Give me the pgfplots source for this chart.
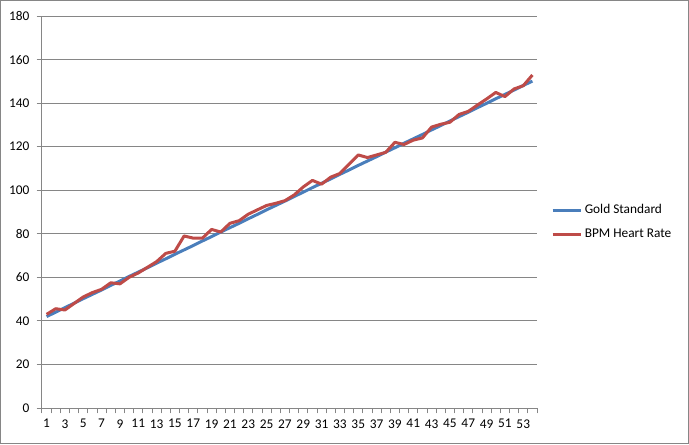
\documentclass[border=0pt]{standalone}
\usepackage{fontspec}
\setmainfont{Carlito}
\usepackage{pgfplots}
\pgfplotsset{compat=1.18}
\definecolor{gsblue}{RGB}{74,126,187}
\definecolor{bpmred}{RGB}{190,75,72}
\definecolor{axgray}{RGB}{134,134,134}
\begin{document}
\begin{tikzpicture}
\useasboundingbox (0,0) rectangle (516.75pt,333pt);
\draw[axgray,line width=0.75pt] (0.375pt,0.375pt) rectangle (516.375pt,332.625pt);
\begin{axis}[
  at={(31.5pt,27pt)}, anchor=south west,
  scale only axis, width=371.25pt, height=294pt,
  xmin=0.5, xmax=54.5, ymin=0, ymax=180,
  axis x line*=bottom, axis y line*=left,
  axis line style={axgray, line width=0.75pt, -},
  xtick={1,3,...,53},
  minor xtick={0.5,1.5,...,54.5},
  major x tick style={draw=none},
  minor x tick style={axgray, line width=0.75pt},
  ytick={0,20,...,180},
  major y tick style={axgray, line width=0.75pt},
  tick align=outside,
  major tick length=4pt, minor tick length=4pt,
  ymajorgrids, grid style={axgray, line width=0.75pt},
  tick label style={font=\fontsize{10}{12}\selectfont, black},
  /pgf/number format/assume math mode=true,
  xticklabel style={yshift=-1pt},
  yticklabel style={xshift=-2pt},
  legend style={at={(1.028,0.474)}, anchor=west, draw=none, fill=none,
    font=\fontsize{10}{12}\selectfont, row sep=6pt, inner sep=0pt,
    cells={anchor=west}},
  legend cell align=left,
  legend image code/.code={\draw[#1] (0pt,0pt) -- (21pt,0pt);},
]
\addplot[gsblue, line width=2.25pt, line join=round] coordinates {
(1,42.0) (2,44.0) (3,46.1) (4,48.1) (5,50.2) (6,52.2) (7,54.2) (8,56.3) (9,58.3) (10,60.4)
(11,62.4) (12,64.4) (13,66.5) (14,68.5) (15,70.6) (16,72.6) (17,74.6) (18,76.7) (19,78.7) (20,80.8)
(21,82.8) (22,84.8) (23,86.9) (24,88.9) (25,91.0) (26,93.0) (27,95.0) (28,97.1) (29,99.1) (30,101.2)
(31,103.2) (32,105.2) (33,107.3) (34,109.3) (35,111.4) (36,113.4) (37,115.4) (38,117.5) (39,119.5) (40,121.6)
(41,123.6) (42,125.6) (43,127.7) (44,129.7) (45,131.8) (46,133.8) (47,135.8) (48,137.9) (49,139.9) (50,142.0)
(51,144.0) (52,146.0) (53,148.1) (54,150.1)
};
\addlegendentry{Gold Standard}
\addplot[bpmred, line width=2.25pt, line join=round] coordinates {
(1,43) (2,45.6) (3,45) (4,48) (5,51) (6,53) (7,54.5) (8,57.5) (9,57) (10,60)
(11,62) (12,64.6) (13,67.2) (14,71) (15,72) (16,79) (17,78) (18,78) (19,82) (20,80.8)
(21,84.8) (22,86) (23,89) (24,91) (25,93) (26,94) (27,95.2) (28,97.8) (29,101.5) (30,104.5)
(31,102.8) (32,106) (33,107.7) (34,112) (35,116.2) (36,115) (37,116.2) (38,117.4) (39,122) (40,121)
(41,123) (42,124) (43,129) (44,130.3) (45,131.2) (46,134.8) (47,136.2) (48,139.1) (49,141.9) (50,144.9)
(51,143) (52,146.5) (53,148) (54,152.9)
};
\addlegendentry{BPM Heart Rate}
\end{axis}
\end{tikzpicture}
\end{document}
